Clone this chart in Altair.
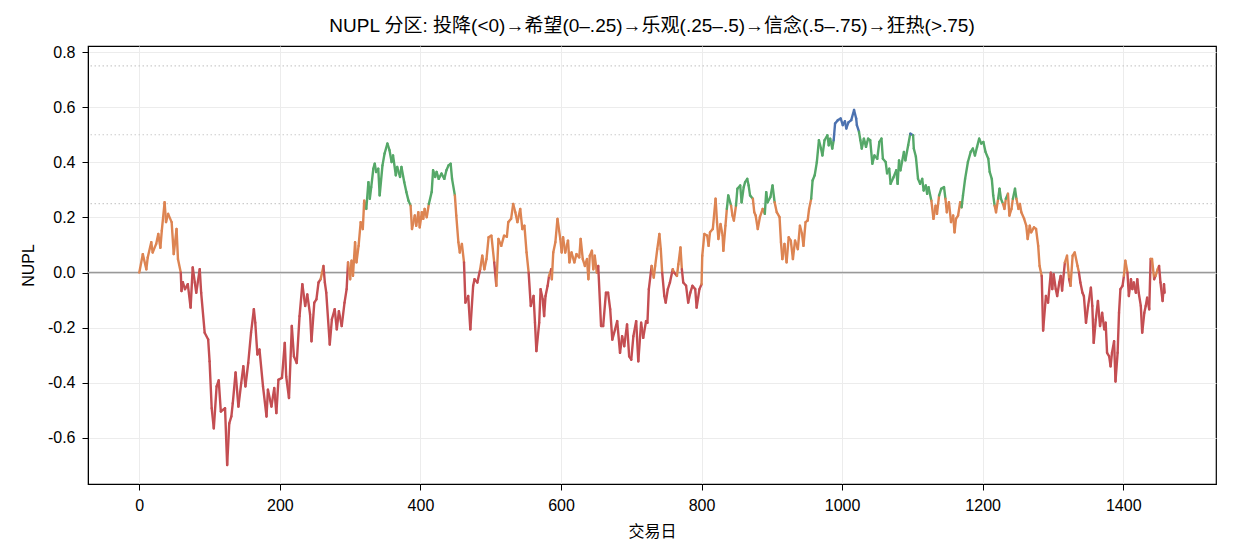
import altair as alt
import pandas as pd

# ---- data ----
days = [0, 5, 10, 12, 17, 19, 24, 27, 30, 32, 36, 38, 41, 46, 49, 53, 55, 59, 60, 62, 65, 69, 73, 76, 79, 81, 86, 88, 93, 98,
        100, 103, 106, 110, 113, 116, 122, 125, 128, 131, 133, 137, 141, 145, 148, 151, 155, 159, 163, 165, 168, 171, 176, 181, 183, 188, 192, 195, 198,
        203, 207, 209, 213, 217, 220, 224, 228, 232, 236, 239, 243, 245, 249, 252, 255, 258, 262, 264, 266, 271, 274, 278, 281, 284, 288, 292, 295, 297,
        300, 302, 304, 307, 309, 312, 315, 318, 320, 323, 326, 328, 330, 333, 335, 337, 340, 342, 346, 349, 353, 356, 359, 361, 365, 367, 371, 373, 377,
        380, 383, 386, 388, 392, 394, 397, 399, 402, 404, 406, 409, 412, 416, 418, 421, 423, 426, 430, 434, 437, 440, 443, 445, 449, 451, 454, 456, 459,
        462, 464, 468, 471, 475, 477, 481, 485, 488, 491, 494, 497, 501, 505, 508, 511, 515, 519, 523, 525, 529, 532, 535, 538, 542, 545, 548, 551, 554,
        557, 561, 563, 565, 569, 571, 574, 576, 578, 581, 583, 586, 587, 589, 592, 595, 599, 601, 603, 606, 610, 612, 615, 619, 622, 626, 628, 631, 634,
        637, 639, 641, 644, 646, 648, 651, 653, 657, 660, 664, 667, 670, 673, 677, 680, 684, 687, 690, 694, 697, 700, 703, 707, 710, 714, 717, 721, 723,
        725, 729, 732, 734, 737, 740, 742, 744, 747, 749, 752, 755, 759, 761, 765, 767, 770, 772, 774, 778, 781, 784, 787, 791, 793, 797, 800, 801, 804,
        808, 810, 812, 816, 820, 822, 824, 827, 830, 831, 834, 836, 838, 842, 844, 846, 849, 851, 855, 857, 860, 862, 865, 867, 869, 873, 875, 877, 880,
        883, 887, 890, 892, 894, 898, 901, 904, 907, 911, 913, 915, 918, 921, 924, 927, 930, 933, 937, 940, 943, 945, 948, 951, 953, 956, 958, 961, 964,
        967, 970, 972, 975, 979, 981, 983, 986, 988, 990, 994, 998, 1001, 1004, 1006, 1009, 1013, 1017, 1020, 1021, 1024, 1026, 1028, 1031, 1034, 1037,
        1040, 1043, 1046, 1050, 1053, 1056, 1058, 1062, 1064, 1067, 1069, 1073, 1077, 1079, 1081, 1083, 1088, 1090, 1094, 1097, 1101, 1102, 1105, 1108,
        1111, 1114, 1116, 1119, 1121, 1123, 1127, 1130, 1133, 1135, 1138, 1141, 1145, 1147, 1149, 1152, 1155, 1158, 1160, 1162, 1165, 1168, 1170, 1172,
        1175, 1179, 1183, 1186, 1189, 1192, 1195, 1198, 1201, 1204, 1208, 1210, 1213, 1215, 1217, 1219, 1222, 1224, 1226, 1229, 1231, 1233, 1236, 1238,
        1241, 1243, 1246, 1248, 1251, 1253, 1255, 1259, 1262, 1264, 1267, 1269, 1273, 1276, 1279, 1281, 1284, 1286, 1290, 1293, 1297, 1299, 1301, 1304,
        1306, 1309, 1311, 1313, 1317, 1320, 1323, 1325, 1328, 1331, 1335, 1337, 1339, 1342, 1344, 1347, 1350, 1354, 1356, 1358, 1361, 1364, 1367, 1370,
        1373, 1375, 1377, 1380, 1382, 1384, 1387, 1389, 1392, 1394, 1396, 1399, 1401, 1403, 1406, 1408, 1411, 1413, 1415, 1418, 1420, 1422, 1425, 1427,
        1430, 1432, 1434, 1437, 1439, 1441, 1444, 1446, 1449, 1451, 1453, 1456, 1458, 1459]

nupl = [0.0, 0.067, 0.012, 0.055, 0.11, 0.073, 0.104, 0.14, 0.09, 0.152, 0.255, 0.183, 0.213, 0.183, 0.067, 0.158, 0.049, 0.0, -0.067, -0.035, -0.06, -0.042, -0.127, 0.019, -0.036, -0.073, 0.012, -0.073, -0.218, -0.243,
        -0.322, -0.492, -0.565, -0.413, -0.391, -0.504, -0.492, -0.698, -0.547, -0.522, -0.474, -0.362, -0.486, -0.401, -0.34, -0.413, -0.328, -0.218, -0.133, -0.182, -0.297, -0.279, -0.413, -0.522, -0.425, -0.486, -0.419, -0.51, -0.389,
        -0.382, -0.255, -0.377, -0.455, -0.194, -0.304, -0.328, -0.158, -0.042, -0.121, -0.079, -0.152, -0.249, -0.109, -0.097, -0.036, -0.024, 0.024, -0.036, -0.073, -0.261, -0.17, -0.133, -0.206, -0.14, -0.194, -0.109, -0.06, 0.037,
        -0.024, 0.043, -0.012, 0.11, 0.037, 0.097, 0.183, 0.158, 0.261, 0.231, 0.328, 0.268, 0.31, 0.377, 0.395, 0.365, 0.377, 0.28, 0.389, 0.432, 0.468, 0.444, 0.401, 0.425, 0.353, 0.383, 0.347, 0.383, 0.328,
        0.292, 0.261, 0.243, 0.158, 0.207, 0.17, 0.219, 0.164, 0.219, 0.195, 0.231, 0.201, 0.249, 0.292, 0.371, 0.347, 0.365, 0.34, 0.359, 0.34, 0.371, 0.389, 0.395, 0.34, 0.28, 0.207, 0.11, 0.073, 0.104,
        0.037, -0.109, -0.085, -0.206, -0.048, -0.024, -0.036, 0.012, 0.061, 0.012, 0.049, 0.128, 0.134, 0.037, -0.048, 0.122, 0.097, 0.134, 0.13, 0.183, 0.195, 0.249, 0.219, 0.183, 0.231, 0.158, 0.17, 0.073, 0.0,
        -0.121, -0.085, -0.182, -0.285, -0.182, -0.06, -0.097, -0.158, -0.085, -0.048, -0.012, 0.012, -0.024, 0.073, 0.11, 0.195, 0.122, 0.073, 0.128, 0.073, 0.116, 0.037, 0.073, 0.037, 0.067, 0.055, 0.122, 0.049, 0.024,
        0.049, -0.024, 0.061, 0.079, 0.012, 0.061, 0.0, 0.024, -0.194, -0.194, -0.073, -0.073, -0.133, -0.243, -0.206, -0.176, -0.291, -0.231, -0.267, -0.188, -0.304, -0.316, -0.231, -0.176, -0.322, -0.182, -0.237, -0.176, -0.182,
        -0.06, 0.024, -0.018, 0.024, 0.085, 0.14, 0.085, 0.0, -0.085, -0.109, -0.06, -0.036, 0.012, 0.0, -0.012, 0.03, 0.091, 0.012, -0.036, -0.048, -0.109, -0.073, -0.048, -0.06, -0.127, -0.06, -0.042, 0.061, 0.14,
        0.134, 0.097, 0.146, 0.158, 0.268, 0.183, 0.122, 0.176, 0.134, 0.079, 0.17, 0.231, 0.28, 0.243, 0.207, 0.189, 0.243, 0.304, 0.316, 0.255, 0.31, 0.328, 0.34, 0.316, 0.28, 0.268, 0.219, 0.207, 0.158,
        0.201, 0.231, 0.213, 0.292, 0.255, 0.274, 0.316, 0.255, 0.219, 0.201, 0.11, 0.049, 0.104, 0.037, 0.128, 0.116, 0.049, 0.116, 0.085, 0.17, 0.14, 0.097, 0.183, 0.189, 0.231, 0.268, 0.334, 0.353, 0.4,
        0.48, 0.45, 0.425, 0.48, 0.498, 0.462, 0.486, 0.45, 0.48, 0.541, 0.553, 0.559, 0.535, 0.549, 0.523, 0.545, 0.553, 0.59, 0.559, 0.535, 0.511, 0.48, 0.45, 0.486, 0.456, 0.486,
        0.48, 0.395, 0.425, 0.413, 0.474, 0.486, 0.413, 0.401, 0.36, 0.377, 0.322, 0.345, 0.371, 0.322, 0.407, 0.371, 0.438, 0.407, 0.462, 0.504, 0.498, 0.45, 0.42, 0.34,
        0.322, 0.34, 0.298, 0.316, 0.286, 0.31, 0.261, 0.195, 0.243, 0.213, 0.28, 0.304, 0.31, 0.268, 0.219, 0.255, 0.183, 0.207, 0.146, 0.195, 0.207, 0.255, 0.237, 0.28,
        0.34, 0.401, 0.438, 0.45, 0.425, 0.456, 0.486, 0.468, 0.474, 0.438, 0.413, 0.365, 0.34, 0.28, 0.243, 0.219, 0.268, 0.304, 0.268, 0.249, 0.231, 0.268, 0.286, 0.207,
        0.231, 0.268, 0.304, 0.268, 0.231, 0.249, 0.219, 0.195, 0.17, 0.122, 0.17, 0.146, 0.164, 0.158, 0.097, 0.024, -0.012, -0.21, -0.085, -0.109, 0.0, -0.06, -0.006, -0.06,
        -0.085, -0.036, -0.012, -0.065, 0.037, 0.061, -0.024, -0.048, 0.061, 0.073, 0.024, 0.0, -0.036, -0.073, -0.085, -0.182, -0.121, -0.055, -0.121, -0.255, -0.17, -0.103, -0.194, -0.146,
        -0.206, -0.182, -0.291, -0.304, -0.34, -0.291, -0.249, -0.395, -0.291, -0.146, -0.06, -0.048, -0.012, 0.043, 0.0, -0.085, -0.024, -0.06, -0.036, -0.073, -0.024, -0.073, -0.121, -0.218,
        -0.146, -0.121, -0.091, -0.133, 0.049, 0.049, -0.024, -0.012, 0.012, 0.024, -0.036, -0.103, -0.042, -0.073]

zone_names = ["投降", "希望", "乐观", "信念", "狂热"]
zone_colors = ["#c44e52", "#dd8452", "#55a868", "#4c72b0", "#8172b3"]
zone_edges = [0.0, 0.25, 0.5, 0.75]
thresholds = [0.25, 0.5, 0.75]
x_ticks = [0, 200, 400, 600, 800, 1000, 1200, 1400]
y_ticks = [-0.6, -0.4, -0.2, 0.0, 0.2, 0.4, 0.6, 0.8]

title_text = "NUPL 分区: 投降(<0)→希望(0–.25)→乐观(.25–.5)→信念(.5–.75)→狂热(>.75)"
FONT = "Liberation Sans, Arial, Noto Sans CJK SC"


def zone_of(v):
    k = 0
    for e in zone_edges:
        if v >= e:
            k += 1
    return zone_names[k]


seg = pd.DataFrame({
    "x": days[:-1], "x2": days[1:],
    "y": nupl[:-1], "y2": nupl[1:],
})
seg["zone"] = [zone_of((a + b) / 2) for a, b in zip(seg["y"], seg["y2"])]

W, H = 1128, 438

xscale = alt.Scale(domain=[-73, 1532], nice=False, zero=False)
yscale = alt.Scale(domain=[-0.767, 0.822], nice=False, zero=False)

yaxis = alt.Axis(values=y_ticks, title="NUPL",
                 labelExpr="replace(format(datum.value, '.1f'), '\u2212', '-')",
                 titleX=-60, titleY=H / 2, titleAngle=-90,
                 titleBaseline="middle", titleAlign="center")
xaxis = alt.Axis(values=x_ticks, title="交易日", format="d",
                 titleX=W / 2, titleY=47, titleBaseline="middle")


def ychan():
    return alt.Y("y:Q", scale=yscale, axis=yaxis, title="NUPL")


lines = alt.Chart(seg).mark_rule(strokeWidth=2.4, strokeCap="round").encode(
    x=alt.X("x:Q", scale=xscale, axis=xaxis, title="交易日"),
    x2="x2:Q",
    y=ychan(),
    y2="y2:Q",
    color=alt.Color("zone:N", scale=alt.Scale(domain=zone_names, range=zone_colors), legend=None),
)

thr = alt.Chart(pd.DataFrame({"y": thresholds})).mark_rule(
    color="#cccccc", strokeWidth=1.1, strokeDash=[1.5, 2.5]
).encode(y=ychan())

zero = alt.Chart(pd.DataFrame({"y": [0.0]})).mark_rule(
    color="#999999", strokeWidth=1.5
).encode(y=ychan())

chart = alt.layer(thr, zero, lines).properties(
    width=W, height=H,
    title=alt.TitleParams(title_text, fontSize=19, font=FONT, fontWeight="normal",
                          color="black", anchor="middle", offset=8),
    autosize=alt.AutoSizeParams(type="none"),
    padding={"left": 88, "top": 46, "right": 19, "bottom": 75},
).configure_axis(
    labelFont=FONT, labelFontSize=16, labelColor="black",
    titleFont=FONT, titleFontSize=16, titleFontWeight="normal", titleColor="black",
    tickColor="black", tickSize=6, tickWidth=1, domainColor="black", domainWidth=1,
    gridColor="#ececec", gridWidth=1, labelPadding=7,
).configure_view(stroke="black", strokeWidth=1.2)

chart.save("out.html", embed_options={"renderer": "svg", "actions": False})
